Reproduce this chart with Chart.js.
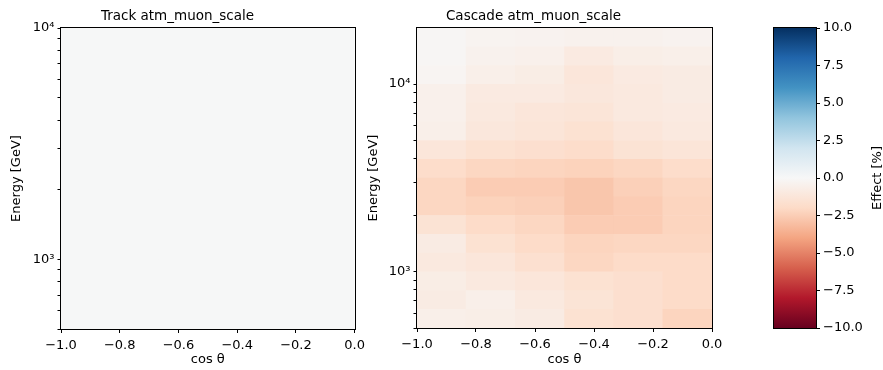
<!DOCTYPE html>
<html><head><meta charset="utf-8">
<script src="https://cdn.jsdelivr.net/npm/chart.js@4.4.1/dist/chart.umd.min.js"></script>
<style>
html,body{margin:0;padding:0;background:#fff;}
#wrap{position:relative;width:883px;height:370px;overflow:hidden;background:#fff;}
canvas{position:absolute;top:0;}
</style></head><body>
<div id="wrap">
<canvas id="track" width="370" height="370" style="left:0px"></canvas>
<canvas id="cascade" width="380" height="370" style="left:355px"></canvas>
<canvas id="cbar" width="133" height="370" style="left:750px"></canvas>
</div>
<script>
// ---- data ----
const cosThetaEdges = [-1.0, -0.8333, -0.6667, -0.5, -0.3333, -0.1667, 0.0];
const trackEnergyEdges = [500, 629, 792, 998, 1256, 1581, 1991, 2506, 3155, 3972, 5000, 6295, 7924, 10000];
const cascadeEnergyEdges = [500, 629, 792, 998, 1256, 1581, 1991, 2506, 3155, 3972, 5000, 6295, 7924, 9976, 12559, 15811, 19905];
// rows: low energy -> high energy, columns: cos(theta) -1 -> 0, values in %
const trackEffect = [
  [0, 0, 0, 0, 0, 0],
  [0, 0, 0, 0, 0, 0],
  [0, 0, 0, 0, 0, 0],
  [0, 0, 0, 0, 0, 0],
  [0, 0, 0, 0, 0, 0],
  [0, 0, 0, 0, 0, 0],
  [0, 0, 0, 0, 0, 0],
  [0, 0, 0, 0, 0, 0],
  [0, 0, 0, 0, 0, 0],
  [0, 0, 0, 0, 0, 0],
  [0, 0, 0, 0, 0, 0],
  [0, 0, 0, 0, 0, 0],
  [0, 0, 0, 0, 0, 0]
];
const cascadeEffect = [
  [-0.57, -0.64, -0.79, -1.50, -1.71, -2.21],
  [-0.79, -0.57, -1.00, -1.36, -1.71, -1.93],
  [-0.71, -1.00, -1.21, -1.50, -1.71, -1.93],
  [-1.00, -1.21, -1.64, -2.14, -1.93, -1.93],
  [-0.79, -1.50, -1.93, -2.19, -2.14, -2.15],
  [-1.43, -1.93, -2.15, -2.52, -2.52, -2.26],
  [-2.14, -2.33, -2.37, -2.74, -2.52, -2.26],
  [-2.14, -2.52, -2.52, -2.74, -2.40, -2.15],
  [-1.86, -2.14, -2.19, -2.33, -2.14, -1.86],
  [-1.21, -1.50, -1.71, -1.86, -1.43, -1.29],
  [-0.57, -1.14, -1.29, -1.50, -1.21, -1.00],
  [-0.50, -1.00, -1.21, -1.29, -1.00, -0.86],
  [-0.50, -0.86, -0.93, -1.14, -1.00, -0.79],
  [-0.21, -0.57, -0.71, -1.21, -0.86, -0.79],
  [-0.14, -0.43, -0.50, -0.86, -0.64, -0.57],
  [-0.14, -0.29, -0.36, -0.43, -0.43, -0.36]
];
const cosTicks = [-1.0, -0.8, -0.6, -0.4, -0.2, 0.0];
const trackEnergyTicks = [500, 600, 700, 800, 900, 1000, 2000, 3000, 4000, 5000, 6000, 7000, 8000, 9000, 10000];
const cascadeEnergyTicks = [500, 600, 700, 800, 900, 1000, 2000, 3000, 4000, 5000, 6000, 7000, 8000, 9000, 10000];
const energyTickLabels = {1000: '10³', 10000: '10⁴'};
const colorbarTicks = [-10, -7.5, -5, -2.5, 0, 2.5, 5, 7.5, 10];
const effectRange = [-10, 10];

// ---- colormap (RdBu) ----
const RDBU = ['#67001f','#b2182b','#d6604d','#f4a582','#fddbc7','#f7f7f7','#d1e5f0','#92c5de','#4393c3','#2166ac','#053061'];
function hex2rgb(h){return [parseInt(h.slice(1,3),16),parseInt(h.slice(3,5),16),parseInt(h.slice(5,7),16)];}
const RDBU_RGB = RDBU.map(hex2rgb);
function rdbu(v){
  let p = (v - effectRange[0]) / (effectRange[1] - effectRange[0]);
  p = Math.min(1, Math.max(0, p));
  const idx = Math.min(255, Math.floor(p * 256));
  p = idx / 255;
  const s = p * 10;
  const i = Math.min(9, Math.floor(s));
  const t = s - i;
  const a = RDBU_RGB[i], b = RDBU_RGB[i + 1];
  const c = a.map((x, k) => Math.round(x + (b[k] - x) * t));
  return `rgb(${c[0]},${c[1]},${c[2]})`;
}

const FONT = "'DejaVu Sans', sans-serif";
const TICK = 13;
Chart.defaults.font.family = FONT;
Chart.defaults.color = '#000';

const framePlugin = {
  id: 'frame',
  afterDatasetsDraw(chart) {
    const a = chart.chartArea, c = chart.ctx;
    c.save();
    c.strokeStyle = '#000';
    c.lineWidth = 1;
    const l = Math.round(a.left) - 0.5, t = Math.round(a.top) - 0.5;
    const r = Math.round(a.right) + 0.5, b = Math.round(a.bottom) + 0.5;
    c.strokeRect(l, t, r - l, b - t);
    c.restore();
  }
};

function fmtTick(v){
  if (Math.abs(v) < 1e-9) return '0.0';
  return v.toFixed(1).replace('-', '−');
}

function buildDatasets(values, eEdges){
  return values.map((row, i) => ({
    data: row.map((v, j) => ({x: (cosThetaEdges[j] + cosThetaEdges[j + 1]) / 2, y: [eEdges[i], eEdges[i + 1]]})),
    backgroundColor: row.map(v => rdbu(v)),
    borderWidth: 0,
    grouped: false,
    barPercentage: 1,
    categoryPercentage: 1
  }));
}

function heatmap(id, title, values, eEdges, eTicks, opts){
  return new Chart(document.getElementById(id), {
    type: 'bar',
    data: {datasets: buildDatasets(values, eEdges)},
    plugins: [framePlugin],
    options: {
      responsive: false, animation: false, devicePixelRatio: 1,
      layout: {padding: {left: 0, right: opts.padRight, top: 0, bottom: 0}},
      plugins: {
        legend: {display: false}, tooltip: {enabled: false},
        title: {display: true, text: title, font: {size: 13.5, weight: 'normal', family: FONT}, color: '#000',
                padding: {top: 8.5, bottom: 3.3}}
      },
      scales: {
        x: {
          type: 'linear', min: cosThetaEdges[0], max: cosThetaEdges[cosThetaEdges.length - 1],
          offset: false,
          grid: {display: true, drawOnChartArea: false, drawTicks: true, tickLength: 4, color: '#000', offset: false},
          border: {display: false},
          afterBuildTicks: s => { s.ticks = cosTicks.map(v => ({value: v})); },
          afterFit: s => { s.height = opts.xHeight; },
          ticks: {autoSkip: false, maxRotation: 0, font: {size: TICK}, color: '#000', padding: 5, callback: v => fmtTick(v)},
          title: {display: true, text: 'cos θ', font: {size: TICK}, color: '#000', padding: {top: 0, bottom: 3}}
        },
        y: {
          type: 'logarithmic', min: eEdges[0], max: eEdges[eEdges.length - 1], bounds: 'data',
          grid: {display: true, drawOnChartArea: false, drawTicks: true, tickLength: 3.5, color: '#000'},
          border: {display: false},
          afterBuildTicks: s => { s.ticks = eTicks.map(v => ({value: v})); },
          afterFit: s => { s.width = opts.yWidth; },
          ticks: {autoSkip: false, font: {size: TICK}, color: '#000', padding: 3, callback: v => energyTickLabels[v] || ''},
          title: {display: true, text: 'Energy [GeV]', font: {size: TICK}, color: '#000', padding: {top: opts.yTitlePad, bottom: 0}}
        }
      }
    }
  });
}

heatmap('track', 'Track atm_muon_scale', trackEffect, trackEnergyEdges, trackEnergyTicks,
        {padRight: 15, xHeight: 41, yWidth: 61, yTitlePad: 9});
heatmap('cascade', 'Cascade atm_muon_scale', cascadeEffect, cascadeEnergyEdges, cascadeEnergyTicks,
        {padRight: 23, xHeight: 42, yWidth: 62, yTitlePad: 10.5});

// ---- colorbar ----
const cbTitlePlugin = {
  id: 'cbTitle',
  afterDraw(chart) {
    const c = chart.ctx, a = chart.chartArea;
    c.save();
    c.translate(128, (a.top + a.bottom) / 2);
    c.rotate(-Math.PI / 2);
    c.font = TICK + "px " + FONT;
    c.fillStyle = '#000';
    c.textAlign = 'center';
    c.textBaseline = 'middle';
    c.fillText('Effect [%]', 0, 0);
    c.restore();
  }
};
new Chart(document.getElementById('cbar'), {
  type: 'bar',
  data: {
    labels: ['effect'],
    datasets: [{
      data: [effectRange],
      borderWidth: 0, barPercentage: 1, categoryPercentage: 1,
      backgroundColor: ctx => {
        const a = ctx.chart.chartArea;
        if (!a) return '#f7f7f7';
        const g = ctx.chart.ctx.createLinearGradient(0, a.bottom, 0, a.top);
        RDBU.forEach((col, i) => g.addColorStop(i / 10, col));
        return g;
      }
    }]
  },
  plugins: [framePlugin, cbTitlePlugin],
  options: {
    responsive: false, animation: false, devicePixelRatio: 1,
    layout: {padding: {left: 24, right: 0, top: 28, bottom: 42}},
    plugins: {legend: {display: false}, tooltip: {enabled: false}},
    scales: {
      x: {display: false},
      y: {
        position: 'right', min: effectRange[0], max: effectRange[1],
        grid: {display: true, drawOnChartArea: false, drawTicks: true, tickLength: 4, color: '#000'},
        border: {display: false},
        afterBuildTicks: s => { s.ticks = colorbarTicks.map(v => ({value: v})); },
        afterFit: s => { s.width = 67; },
        ticks: {autoSkip: false, font: {size: TICK}, color: '#000', padding: 3, callback: v => fmtTick(v)}
      }
    }
  }
});
</script>
</body></html>
